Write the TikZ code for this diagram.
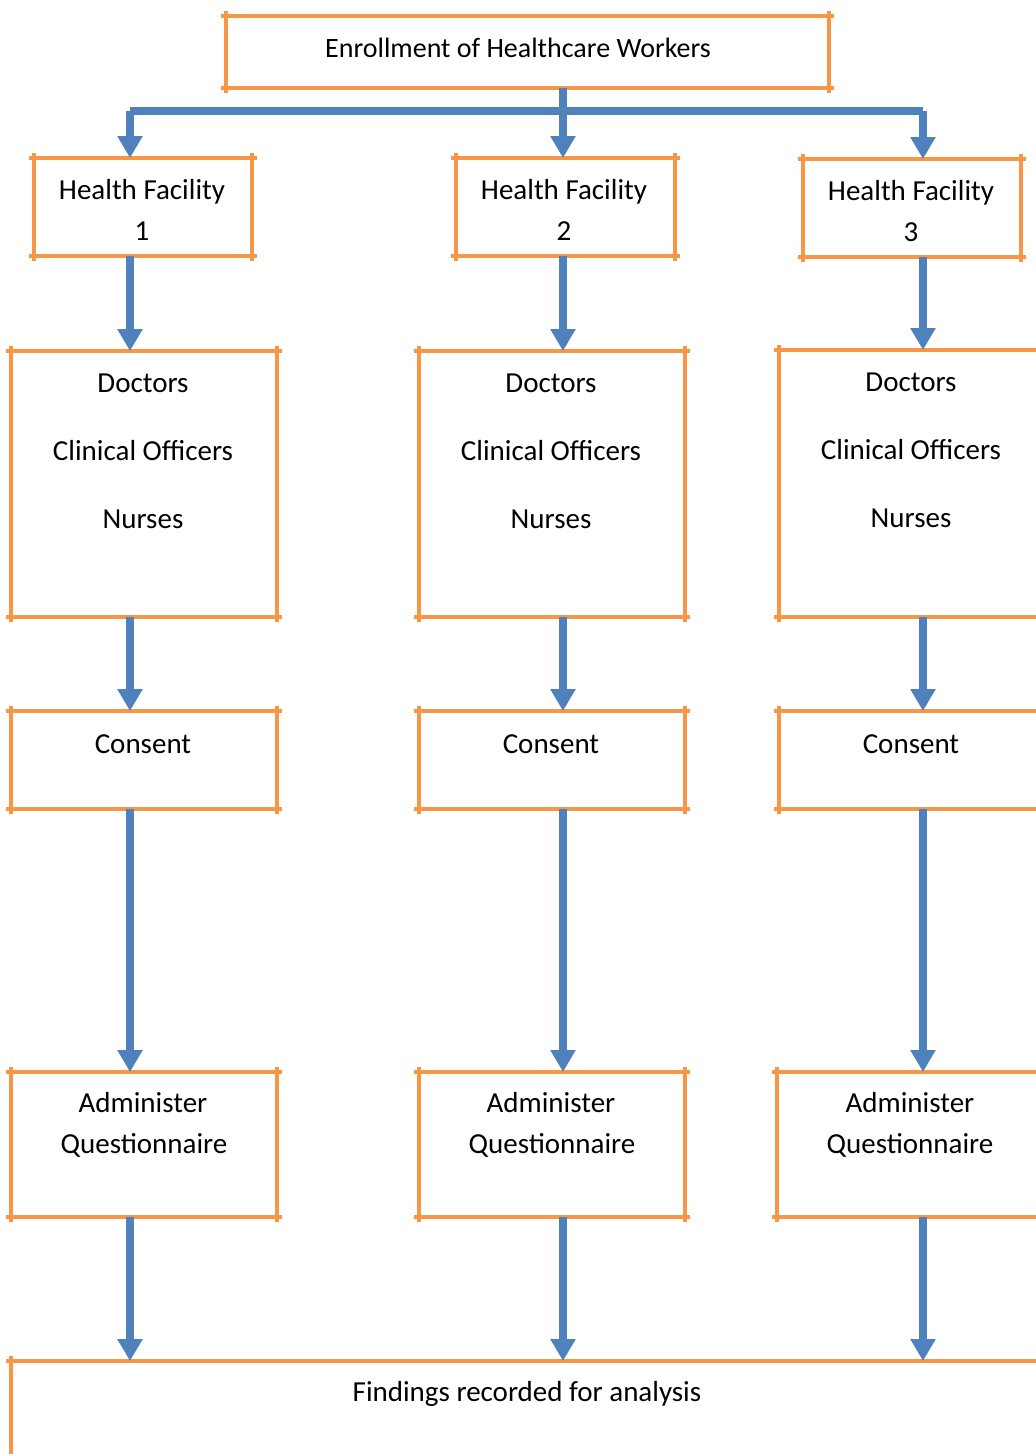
\documentclass[tikz,border=0pt]{standalone}
\usepackage{fontspec}
\setmainfont{Carlito}
\usetikzlibrary{arrows.meta}
\definecolor{boxorange}{RGB}{247,150,70}
\definecolor{flowblue}{RGB}{79,129,189}
\begin{document}
\begin{tikzpicture}[x=1pt,y=-1pt,
  fbox/.style args={#1x#2}{draw=boxorange,line width=4pt,inner sep=0pt,outer sep=0pt,
    anchor=north west,minimum width=#1pt,minimum height=#2pt,
    append after command={
      \pgfextra{\let\thisbox\tikzlastnode}
      ([xshift=-5pt]\thisbox.north west) edge[tick] ([xshift=5pt]\thisbox.north east)
      ([xshift=-5pt]\thisbox.south west) edge[tick] ([xshift=5pt]\thisbox.south east)
      ([yshift=5pt]\thisbox.north west) edge[tick] ([yshift=-5pt]\thisbox.south west)
      ([yshift=5pt]\thisbox.north east) edge[tick] ([yshift=-5pt]\thisbox.south east)
    }},
  tick/.style={draw=boxorange,line width=4pt},
  lbl/.style={anchor=base,inner sep=0pt,font=\fontsize{29}{35}\selectfont},
  flow/.style={draw=flowblue,line width=7.5pt,-{Triangle[width=24pt,length=22pt]}},
  bline/.style={draw=flowblue,line width=7.5pt}]
\useasboundingbox (0,0) rectangle (1036,1454);
\clip (0,0) rectangle (1036,1454);
\fill[white] (0,0) rectangle (1036,1454);
% column coordinates
\coordinate (c1) at (130,0);
\coordinate (c2) at (563,0);
\coordinate (c3) at (923,0);
\coordinate (bar) at (0,111);
% boxes
\node[fbox=603x72] (top) at (226,16) {};
\node[fbox=218x98] (hf1) at (34,158) {};
\node[fbox=219x98] (hf2) at (456,158) {};
\node[fbox=218x98] (hf3) at (803,159) {};
\node[fbox=266x266] (doc1) at (11,351) {};
\node[fbox=266x266] (doc2) at (419,351) {};
\node[fbox=266x267] (doc3) at (779,350) {};
\node[fbox=266x98] (con1) at (11,711) {};
\node[fbox=266x98] (con2) at (419,711) {};
\node[fbox=266x98] (con3) at (779,711) {};
\node[fbox=266x145] (adm1) at (11,1072) {};
\node[fbox=266x145] (adm2) at (419,1072) {};
\node[fbox=268x145] (adm3) at (777,1072) {};
\node[fbox=1100x200] (find) at (11,1361) {};
% labels
\node[lbl,font=\fontsize{28}{34}\selectfont] (ttop) at (518,57) {Enrollment of Healthcare Workers};
\node[lbl] (thf1a) at (142,199) {Health Facility};
\node[lbl] (thf1b) at (142,240) {1};
\node[lbl] (thf2a) at (564,199) {Health Facility};
\node[lbl] (thf2b) at (564,240) {2};
\node[lbl] (thf3a) at (911,200) {Health Facility};
\node[lbl] (thf3b) at (911,241) {3};
\foreach \i/\x/\dy in {1/143/0,2/551/0,3/911/-1}{
  \node[lbl] (td\i) at (\x,392+\dy) {Doctors};
  \node[lbl] (tc\i) at (\x,460+\dy) {Clinical Officers};
  \node[lbl] (tn\i) at (\x,528+\dy) {Nurses};
  \node[lbl] (tcon\i) at (\x,753) {Consent};
}
\node[lbl] (ta1) at (143,1112) {Administer};
\node[lbl] (tq1) at (144,1153) {Questionnaire};
\node[lbl] (ta2) at (551,1112) {Administer};
\node[lbl] (tq2) at (552,1153) {Questionnaire};
\node[lbl] (ta3) at (910,1112) {Administer};
\node[lbl] (tq3) at (910,1153) {Questionnaire};
\node[lbl] (tfind) at (527,1401) {Findings recorded for analysis};
% connectors
\draw[bline] (bar -| c1) -- (bar -| c3);
\draw[flow] (top.south -| c2) -- (hf2.north -| c2);
\draw[flow] (bar -| c1) -- (hf1.north -| c1);
\draw[flow] (bar -| c3) -- (hf3.north -| c3);
\draw[flow] (hf1.south -| c1) -- (doc1.north -| c1);
\draw[flow] (hf2.south -| c2) -- (doc2.north -| c2);
\draw[flow] (hf3.south -| c3) -- (doc3.north -| c3);
\draw[flow] (doc1.south -| c1) -- (con1.north -| c1);
\draw[flow] (doc2.south -| c2) -- (con2.north -| c2);
\draw[flow] (doc3.south -| c3) -- (con3.north -| c3);
\draw[flow] (con1.south -| c1) -- (adm1.north -| c1);
\draw[flow] (con2.south -| c2) -- (adm2.north -| c2);
\draw[flow] (con3.south -| c3) -- (adm3.north -| c3);
\draw[flow] (adm1.south -| c1) -- (find.north -| c1);
\draw[flow] (adm2.south -| c2) -- (find.north -| c2);
\draw[flow] (adm3.south -| c3) -- (find.north -| c3);
\end{tikzpicture}
\end{document}
